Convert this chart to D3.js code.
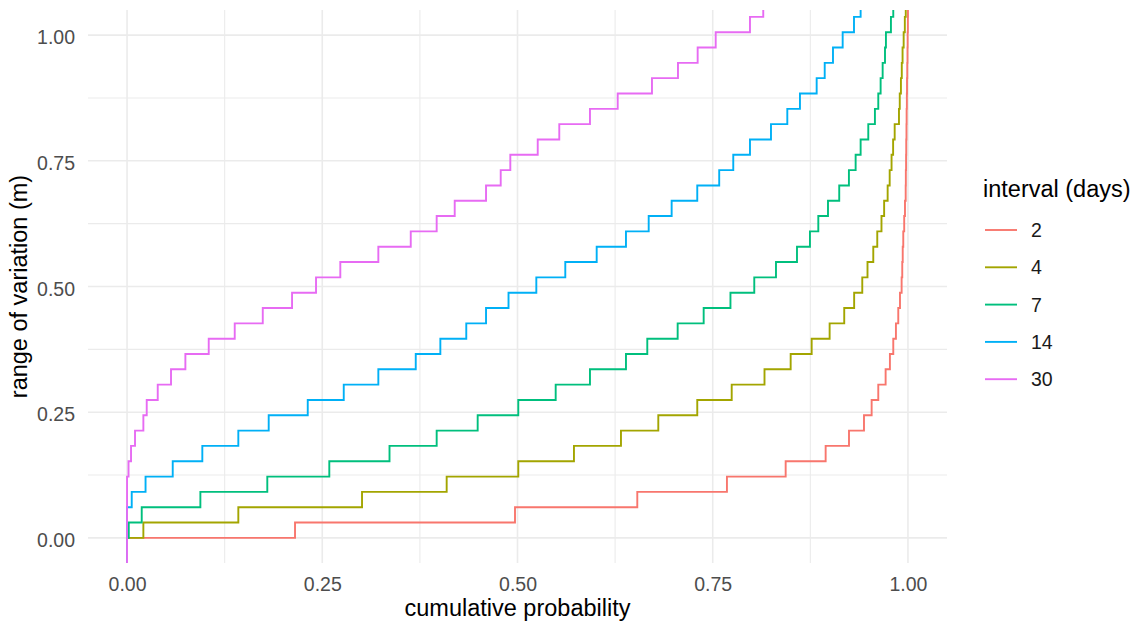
<!DOCTYPE html>
<html>
<head>
<meta charset="utf-8">
<script src="https://cdn.jsdelivr.net/npm/d3@7"></script>
<style>
  body { margin: 0; background: #fff; }
  text { font-family: "Liberation Sans", Arial, sans-serif; }
</style>
</head>
<body>
<svg class="ecdf-chart"></svg>
<script>
// range of variation levels (m), one per 0.1 ft
var levels = [0, 0.0305, 0.0610, 0.0914, 0.1219, 0.1524, 0.1829, 0.2134, 0.2438, 0.2743,
  0.3048, 0.3353, 0.3658, 0.3962, 0.4267, 0.4572, 0.4877, 0.5182, 0.5486, 0.5791,
  0.6096, 0.6401, 0.6706, 0.7010, 0.7315, 0.7620, 0.7925, 0.8230, 0.8534, 0.8839,
  0.9144, 0.9449, 0.9754, 1.0058, 1.0363];

// cumulative probability reached at each level (null = not visible)
var cum2 = [0.2151, 0.4968, 0.6534, 0.7682, 0.8434, 0.8946, 0.9245, 0.9437, 0.9535, 0.9620,
  0.9714, 0.9769, 0.9812, 0.9846, 0.9876, 0.9898, 0.9919, 0.9927, 0.9933, 0.9940,
  0.9952, 0.9962, 0.9971, 0.9973, 0.9976, 0.9978, 0.9981, 0.9983, 0.9986, 0.9988,
  0.9991, 0.9994, 0.9996, 0.9999, 1.0000];
var cum4 = [0.0209, 0.1425, 0.3009, 0.4093, 0.5010, 0.5723, 0.6325, 0.6803, 0.7302, 0.7743,
  0.8163, 0.8498, 0.8767, 0.8997, 0.9184, 0.9311, 0.9415, 0.9482, 0.9556, 0.9607,
  0.9661, 0.9695, 0.9740, 0.9766, 0.9790, 0.9810, 0.9830, 0.9885, 0.9895, 0.9910,
  0.9921, 0.9931, 0.9945, 0.9960, 0.9972];
var cum7 = [0.0022, 0.0188, 0.0939, 0.1796, 0.2590, 0.3361, 0.3965, 0.4490, 0.5010, 0.5489,
  0.5928, 0.6389, 0.6662, 0.7051, 0.7384, 0.7727, 0.8032, 0.8310, 0.8579, 0.8745,
  0.8852, 0.8976, 0.9120, 0.9244, 0.9330, 0.9394, 0.9492, 0.9577, 0.9620, 0.9650,
  0.9676, 0.9706, 0.9718, 0.9782, 0.9812];
var cum14 = [null, null, 0.0060, 0.0237, 0.0585, 0.0964, 0.1425, 0.1814, 0.2314, 0.2775,
  0.3218, 0.3697, 0.4012, 0.4344, 0.4597, 0.4885, 0.5241, 0.5612, 0.6014, 0.6389,
  0.6680, 0.6974, 0.7302, 0.7583, 0.7763, 0.7977, 0.8246, 0.8455, 0.8617, 0.8831,
  0.8934, 0.9040, 0.9164, 0.9309, 0.9394];
var cum30 = [null, null, null, null, 0.0019, 0.0051, 0.0102, 0.0209, 0.0252, 0.0393,
  0.0563, 0.0747, 0.1046, 0.1379, 0.1738, 0.2113, 0.2420, 0.2731, 0.3218, 0.3633,
  0.3965, 0.4196, 0.4597, 0.4785, 0.4908, 0.5259, 0.5535, 0.5928, 0.6283, 0.6722,
  0.7055, 0.7307, 0.7538, 0.7977, 0.8147];

var intervals = ["2", "4", "7", "14", "30"];
var colors = ["#F8766D", "#A3A500", "#00BF7D", "#00B0F6", "#E76BF3"];
var tickValues = [0, 0.25, 0.5, 0.75, 1];
var minorValues = [0.125, 0.375, 0.625, 0.875];

var series = [cum2, cum4, cum7, cum14, cum30].map(function(c, i) {
    return { name: intervals[i], color: colors[i], cum: c };
});

var svgWidth = 1137, svgHeight = 626;
var panel = { left: 88, right: 947, top: 10, bottom: 563 };

var svg = d3.select(".ecdf-chart")
    .attr("width", svgWidth)
    .attr("height", svgHeight);

var x = d3.scaleLinear()
    .domain([-0.05, 1.05])
    .range([panel.left, panel.right]);

var y = d3.scaleLinear()
    .domain([-0.05, 1.05])
    .range([panel.bottom, panel.top]);

svg.append("clipPath")
    .attr("id", "panel-clip")
    .append("rect")
    .attr("x", panel.left)
    .attr("y", panel.top)
    .attr("width", panel.right - panel.left)
    .attr("height", panel.bottom - panel.top);

var grid = svg.append("g");

// minor grid
grid.selectAll(".vminor")
    .data(minorValues)
    .enter()
    .append("line")
    .attr("x1", function(d) { return x(d); })
    .attr("x2", function(d) { return x(d); })
    .attr("y1", panel.top)
    .attr("y2", panel.bottom)
    .attr("stroke", "#EBEBEB")
    .attr("stroke-width", 1.1);

grid.selectAll(".hminor")
    .data(minorValues)
    .enter()
    .append("line")
    .attr("x1", panel.left)
    .attr("x2", panel.right)
    .attr("y1", function(d) { return y(d); })
    .attr("y2", function(d) { return y(d); })
    .attr("stroke", "#EBEBEB")
    .attr("stroke-width", 1.1);

// major grid
grid.selectAll(".vmajor")
    .data(tickValues)
    .enter()
    .append("line")
    .attr("x1", function(d) { return x(d); })
    .attr("x2", function(d) { return x(d); })
    .attr("y1", panel.top)
    .attr("y2", panel.bottom)
    .attr("stroke", "#EBEBEB")
    .attr("stroke-width", 1.6);

grid.selectAll(".hmajor")
    .data(tickValues)
    .enter()
    .append("line")
    .attr("x1", panel.left)
    .attr("x2", panel.right)
    .attr("y1", function(d) { return y(d); })
    .attr("y2", function(d) { return y(d); })
    .attr("stroke", "#EBEBEB")
    .attr("stroke-width", 1.6);

// axes (labels only, like theme_minimal)
var xAxis = svg.append("g")
    .attr("transform", "translate(0," + panel.bottom + ")")
    .call(d3.axisBottom(x).tickValues(tickValues).tickFormat(d3.format(".2f")).tickSize(0).tickPadding(10));
xAxis.select(".domain").remove();
xAxis.selectAll("text")
    .attr("font-size", "19.5px")
    .attr("fill", "#4D4D4D")
    .attr("dy", "0")
    .attr("y", 28);

var yAxis = svg.append("g")
    .attr("transform", "translate(" + panel.left + ",0)")
    .call(d3.axisLeft(y).tickValues(tickValues).tickFormat(d3.format(".2f")).tickSize(0).tickPadding(13));
yAxis.select(".domain").remove();
yAxis.selectAll("text")
    .attr("font-size", "19.5px")
    .attr("fill", "#4D4D4D")
    .attr("dy", "0.45em");

// step lines: ecdf with flipped axes, padded with -Inf / +Inf
var line = d3.line()
    .x(function(d) { return x(d.p); })
    .y(function(d) { return y(d.v); })
    .curve(d3.curveStepAfter);

function stepPoints(cum) {
    var pts = [{ p: 0, v: y.domain()[0] }];
    var prev = 0;
    cum.forEach(function(c, k) {
        if (c === null) return;
        pts.push({ p: prev, v: levels[k] });
        prev = c;
    });
    pts.push({ p: prev, v: y.domain()[1] });
    return pts;
}

svg.append("g")
    .attr("clip-path", "url(#panel-clip)")
    .selectAll("path")
    .data(series)
    .enter()
    .append("path")
    .attr("d", function(d) { return line(stepPoints(d.cum)); })
    .attr("fill", "none")
    .attr("stroke", function(d) { return d.color; })
    .attr("stroke-width", 1.9)
    .attr("stroke-linejoin", "miter");

// axis titles
svg.append("text")
    .attr("x", (panel.left + panel.right) / 2)
    .attr("y", 616)
    .attr("text-anchor", "middle")
    .attr("font-size", "23.5px")
    .attr("fill", "#000")
    .text("cumulative probability");

svg.append("text")
    .attr("transform", "translate(27," + ((panel.top + panel.bottom) / 2) + ") rotate(-90)")
    .attr("text-anchor", "middle")
    .attr("font-size", "23.5px")
    .attr("fill", "#000")
    .text("range of variation (m)");

// legend
var legend = svg.append("g")
    .attr("transform", "translate(983,0)");

legend.append("text")
    .attr("x", 0)
    .attr("y", 197)
    .attr("font-size", "23.5px")
    .attr("fill", "#000")
    .text("interval (days)");

var keys = legend.selectAll(".key")
    .data(series)
    .enter()
    .append("g")
    .attr("transform", function(d, i) { return "translate(0," + (230 + i * 37.3) + ")"; });

keys.append("line")
    .attr("x1", 2)
    .attr("x2", 34)
    .attr("stroke", function(d) { return d.color; })
    .attr("stroke-width", 1.9);

keys.append("text")
    .attr("x", 48)
    .attr("y", 7)
    .attr("font-size", "19.5px")
    .attr("fill", "#1A1A1A")
    .text(function(d) { return d.name; });
</script>
</body>
</html>
